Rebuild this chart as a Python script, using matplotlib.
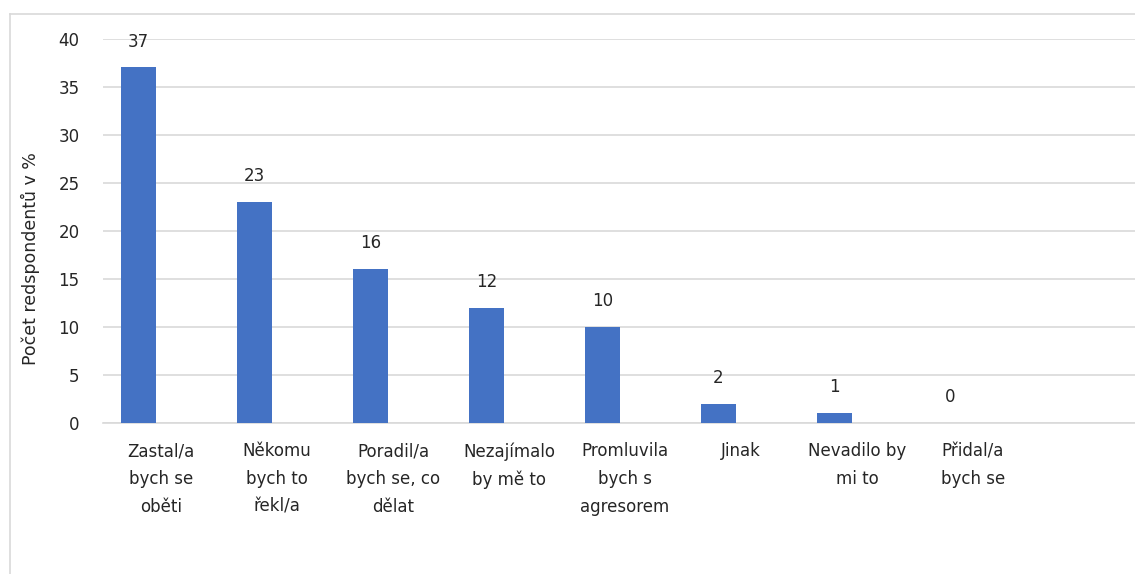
import matplotlib
matplotlib.use("Agg")
import matplotlib.pyplot as plt
import numpy as np
from matplotlib.lines import Line2D

categories = [
    "Zastal/a\nbych se\noběti",
    "Někomu\nbych to\nřekl/a",
    "Poradil/a\nbych se, co\ndělat",
    "Nezajímalo\nby mě to",
    "Promluvila\nbych s\nagresorem",
    "Jinak",
    "Nevadilo by\nmi to",
    "Přidal/a\nbych se",
]
values = [37, 23, 16, 12, 10, 2, 1, 0]
y_ticks = [0, 5, 10, 15, 20, 25, 30, 35, 40]
y_label = "Počet redspondentů v %"

plt.rcParams['font.family'] = ['DejaVu Sans']
text_color = "#262626"
grid_color = "#d9d9d9"
bar_color = "#4472C4"

W, H = 1135, 574
fig = plt.figure(figsize=(W / 100, H / 100), dpi=100)

# outer chart border (left and top visible, rest cropped)
fig.add_artist(Line2D([9.5 / W, 9.5 / W], [0, 1 - 14 / H], transform=fig.transFigure,
                      color=grid_color, lw=1.2))
fig.add_artist(Line2D([9.5 / W, 1], [1 - 14 / H, 1 - 14 / H], transform=fig.transFigure,
                      color=grid_color, lw=1.2))

left_px, top_px, bottom_px = 103, 38.7, 422.7
ax = fig.add_axes([left_px / W, 1 - bottom_px / H, 1 - left_px / W, (bottom_px - top_px) / H])

slot_px = 116.0
n_slots_visible = (W - left_px) / slot_px
x = np.arange(len(categories))
offset = -22.5 / slot_px
width = 35.0 / slot_px

bars = ax.bar(x + offset, values, width=width, color=bar_color, zorder=3)
for xi, v in zip(x, values):
    ax.annotate(str(v), (xi + offset, v), xytext=(0, 18.5), textcoords="offset points",
                ha="center", va="center", fontsize=12, color=text_color)

ax.set_xlim(-0.5, -0.5 + n_slots_visible)
ax.set_ylim(0, 40)
ax.set_yticks(y_ticks)
ax.set_xticks(x)
ax.set_xticklabels(categories, linespacing=1.7)
ax.tick_params(axis="x", length=0, pad=14, labelsize=12, colors=text_color)
ax.tick_params(axis="y", length=0, pad=17, labelsize=12, colors=text_color)
ax.yaxis.grid(True, color=grid_color, lw=1.2, zorder=0)
ax.set_axisbelow(True)
for s in ["top", "right", "left"]:
    ax.spines[s].set_visible(False)
ax.spines["bottom"].set_color(grid_color)
ax.spines["bottom"].set_linewidth(1.2)

fig.text(30 / W, 1 - 259 / H, y_label, rotation=90, ha="center", va="center",
         fontsize=12.5, color=text_color)

fig.savefig("out.png", dpi=100)
